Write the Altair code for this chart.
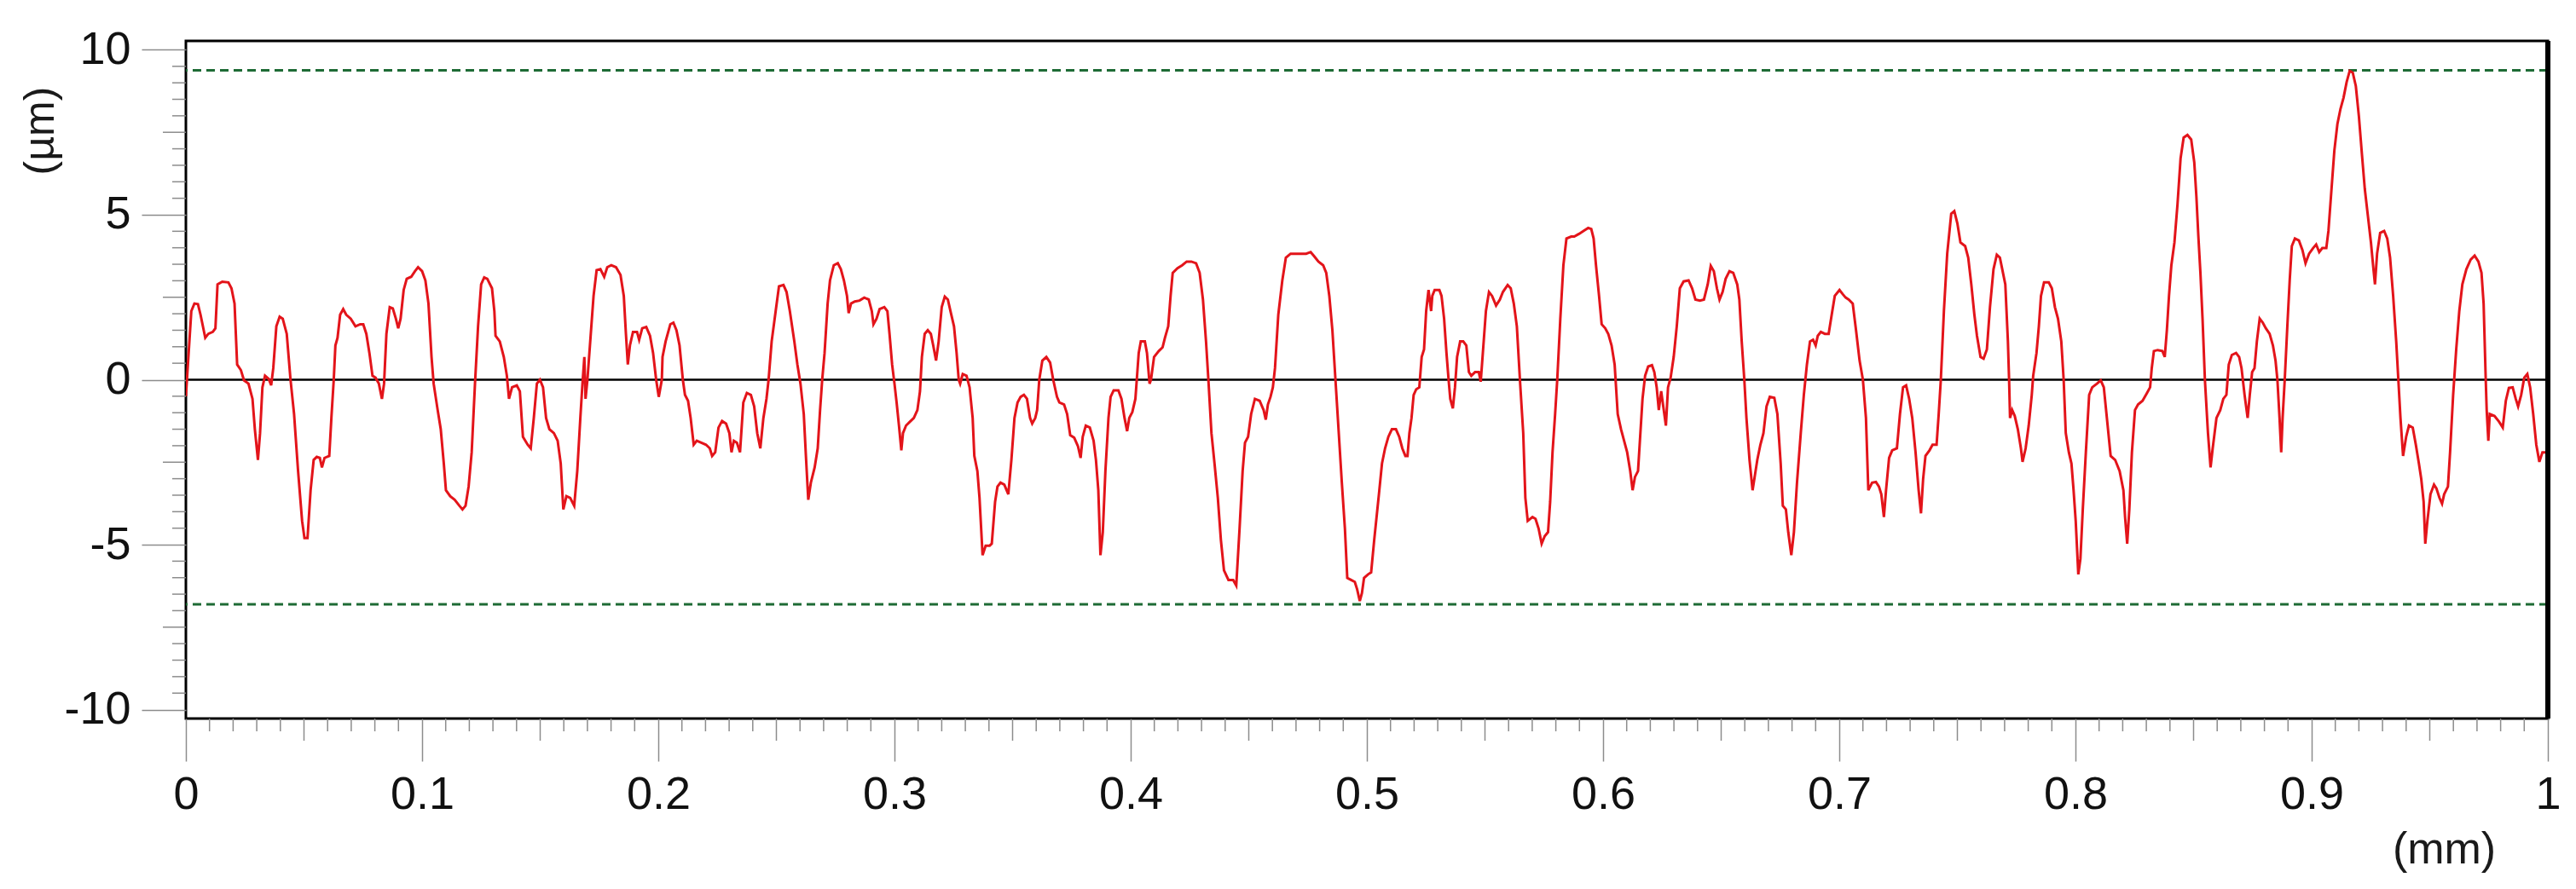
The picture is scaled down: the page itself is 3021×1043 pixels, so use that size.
import altair as alt
import pandas as pd

# ---- profile data (x in mm, z in µm) ----
x_a = [0.000, 0.0023, 0.0036, 0.0051, 0.0062, 0.0082, 0.0095, 0.0114, 0.0125, 0.0134, 0.0154, 0.0180, 0.0193, 0.0206, 0.0217, 0.0233, 0.0246, 0.0265, 0.0282, 0.0292, 0.0305, 0.0314, 0.0324, 0.0335, 0.0351, 0.0361, 0.0370, 0.0383, 0.0397, 0.0410, 0.0427, 0.0443, 0.0458, 0.0475, 0.0492, 0.0502, 0.0515, 0.0528, 0.0541, 0.0554, 0.0567, 0.0576, 0.0587, 0.0607, 0.0616, 0.0626, 0.0633, 0.0642, 0.0653, 0.0666, 0.0679, 0.0698, 0.0718, 0.0738, 0.0751, 0.0764, 0.0777, 0.0790, 0.0803, 0.0817, 0.0830, 0.0839, 0.0849, 0.0863, 0.0876, 0.0889, 0.0899, 0.0909, 0.0922, 0.0935, 0.0954, 0.0970, 0.0983, 0.1000]
y_a = [-0.50, 2.08, 2.31, 2.29, 1.97, 1.27, 1.39, 1.45, 1.56, 2.89, 2.97, 2.95, 2.77, 2.31, 0.46, 0.29, -0.02, -0.12, -0.58, -1.50, -2.43, -1.62, -0.23, 0.12, 0.02, -0.17, 0.35, 1.62, 1.91, 1.85, 1.39, 0.00, -1.04, -2.77, -4.28, -4.80, -4.80, -3.35, -2.43, -2.34, -2.37, -2.66, -2.37, -2.31, -1.16, 0.00, 1.04, 1.27, 1.97, 2.14, 1.97, 1.85, 1.62, 1.68, 1.68, 1.39, 0.81, 0.12, 0.06, -0.12, -0.58, -0.12, 1.39, 2.20, 2.16, 1.85, 1.56, 1.85, 2.72, 3.06, 3.12, 3.29, 3.41, 3.29]

x_b = [0.1014, 0.1027, 0.1040, 0.1049, 0.1066, 0.1079, 0.1092, 0.1101, 0.1119, 0.1138, 0.1158, 0.1171, 0.1184, 0.1197, 0.1210, 0.1224, 0.1237, 0.1250, 0.1263, 0.1276, 0.1296, 0.1306, 0.1311, 0.1329, 0.1346, 0.1359, 0.1368, 0.1381, 0.1401, 0.1414, 0.1427, 0.1447, 0.1460, 0.1473, 0.1486, 0.1499, 0.1512, 0.1525, 0.1539, 0.1558, 0.1574, 0.1587, 0.1598, 0.1611, 0.1627, 0.1644, 0.1657, 0.1670, 0.1679, 0.1687, 0.1692, 0.1700, 0.1713, 0.1726, 0.1739, 0.1755, 0.1771, 0.1784, 0.1801, 0.1821, 0.1840, 0.1854, 0.1863, 0.1871, 0.1880, 0.1893, 0.1910, 0.1919, 0.1932, 0.1949, 0.1965, 0.1978, 0.1991, 0.2002, 0.2015]
y_b = [3.01, 2.31, 0.69, -0.12, -0.92, -1.50, -2.54, -3.35, -3.53, -3.64, -3.82, -3.93, -3.82, -3.24, -2.20, -0.12, 1.62, 2.89, 3.10, 3.06, 2.77, 2.08, 1.33, 1.16, 0.69, 0.12, -0.58, -0.23, -0.17, -0.35, -1.73, -1.97, -2.08, -1.16, -0.12, 0.00, -0.23, -1.16, -1.50, -1.62, -1.85, -2.54, -3.93, -3.53, -3.58, -3.82, -2.77, -1.16, -0.12, 0.69, -0.58, 0.00, 1.27, 2.54, 3.32, 3.35, 3.12, 3.41, 3.47, 3.41, 3.18, 2.54, 1.39, 0.46, 1.04, 1.45, 1.45, 1.21, 1.56, 1.60, 1.33, 0.81, 0.00, -0.52, 0.00]

x_c = [0.2018, 0.2031, 0.2051, 0.2064, 0.2077, 0.2090, 0.2104, 0.2113, 0.2126, 0.2137, 0.2150, 0.2163, 0.2182, 0.2202, 0.2218, 0.2228, 0.2241, 0.2255, 0.2270, 0.2287, 0.2301, 0.2310, 0.2320, 0.2333, 0.2346, 0.2360, 0.2375, 0.2392, 0.2406, 0.2419, 0.2432, 0.2445, 0.2458, 0.2467, 0.2480, 0.2497, 0.2511, 0.2530, 0.2543, 0.2557, 0.2576, 0.2589, 0.2602, 0.2616, 0.2625, 0.2635, 0.2646, 0.2662, 0.2675, 0.2685, 0.2694, 0.2704, 0.2717, 0.2727, 0.2743, 0.2760, 0.2773, 0.2786, 0.2799, 0.2806, 0.2816, 0.2832, 0.2852, 0.2872, 0.2891, 0.2904, 0.2911, 0.2924, 0.2937, 0.2957, 0.2970, 0.2979, 0.2990]
y_c = [0.69, 1.16, 1.68, 1.73, 1.50, 1.04, 0.00, -0.46, -0.64, -1.16, -1.97, -1.85, -1.91, -1.97, -2.08, -2.31, -2.20, -1.45, -1.25, -1.33, -1.62, -2.20, -1.85, -1.91, -2.20, -0.69, -0.40, -0.46, -0.81, -1.62, -2.08, -1.16, -0.58, 0.00, 1.16, 2.08, 2.83, 2.87, 2.66, 2.08, 1.16, 0.46, -0.12, -1.04, -2.31, -3.64, -3.12, -2.66, -2.08, -0.92, 0.00, 0.81, 2.31, 3.01, 3.47, 3.53, 3.35, 3.01, 2.54, 2.02, 2.31, 2.37, 2.40, 2.49, 2.43, 2.08, 1.68, 1.85, 2.14, 2.20, 2.08, 1.39, 0.46]

x_d = [0.3000, 0.3009, 0.3019, 0.3029, 0.3036, 0.3049, 0.3066, 0.3082, 0.3097, 0.3108, 0.3116, 0.3128, 0.3141, 0.3154, 0.3164, 0.3176, 0.3187, 0.3200, 0.3213, 0.3226, 0.3239, 0.3252, 0.3263, 0.3272, 0.3278, 0.3289, 0.3305, 0.3318, 0.3331, 0.3338, 0.3351, 0.3360, 0.3373, 0.3386, 0.3403, 0.3412, 0.3426, 0.3436, 0.3449, 0.3465, 0.3482, 0.3495, 0.3508, 0.3521, 0.3534, 0.3548, 0.3561, 0.3574, 0.3583, 0.3596, 0.3604, 0.3613, 0.3626, 0.3643, 0.3659, 0.3672, 0.3688, 0.3698, 0.3718, 0.3731, 0.3744, 0.3761, 0.3777, 0.3788, 0.3797, 0.3810, 0.3827, 0.3843, 0.3853, 0.3863, 0.3872, 0.3882, 0.3893, 0.3906, 0.3915, 0.3928, 0.3948, 0.3961, 0.3974, 0.3985, 0.3994, 0.4007, 0.4020]
y_d = [-0.12, -0.69, -1.39, -2.14, -1.62, -1.39, -1.27, -1.16, -0.92, -0.35, 0.69, 1.39, 1.50, 1.39, 1.04, 0.58, 1.16, 2.20, 2.52, 2.43, 2.02, 1.62, 0.81, 0.00, -0.12, 0.17, 0.12, -0.23, -1.16, -2.31, -2.77, -3.58, -5.32, -5.03, -5.03, -4.97, -3.70, -3.24, -3.12, -3.18, -3.47, -2.43, -1.16, -0.69, -0.52, -0.46, -0.58, -1.16, -1.33, -1.16, -0.92, 0.00, 0.58, 0.69, 0.52, 0.00, -0.52, -0.69, -0.75, -1.04, -1.68, -1.76, -2.02, -2.37, -1.73, -1.39, -1.45, -1.85, -2.43, -3.35, -5.32, -4.62, -2.77, -1.16, -0.52, -0.32, -0.32, -0.58, -1.16, -1.56, -1.16, -0.98, -0.58]

x_e = [0.4034, 0.4043, 0.4060, 0.4069, 0.4080, 0.4086, 0.4099, 0.4119, 0.4135, 0.4145, 0.4159, 0.4169, 0.4178, 0.4198, 0.4218, 0.4237, 0.4257, 0.4277, 0.4292, 0.4306, 0.4319, 0.4329, 0.4342, 0.4355, 0.4369, 0.4382, 0.4395, 0.4414, 0.4434, 0.4447, 0.4461, 0.4474, 0.4484, 0.4497, 0.4510, 0.4526, 0.4546, 0.4563, 0.4572, 0.4581, 0.4592, 0.4602, 0.4611, 0.4625, 0.4642, 0.4657, 0.4677, 0.4697, 0.4723, 0.4743, 0.4762, 0.4775, 0.4795, 0.4815, 0.4828, 0.4841, 0.4854, 0.4867, 0.4881, 0.4894, 0.4907, 0.4917, 0.4933, 0.4949, 0.4959, 0.4970, 0.4979, 0.4988]
y_e = [0.81, 1.16, 1.16, 0.81, -0.12, 0.00, 0.69, 0.87, 0.98, 1.27, 1.62, 2.54, 3.24, 3.38, 3.47, 3.58, 3.58, 3.53, 3.24, 2.43, 1.16, 0.00, -1.62, -2.54, -3.58, -4.86, -5.78, -6.07, -6.07, -6.24, -4.51, -2.77, -1.91, -1.73, -1.04, -0.58, -0.64, -0.92, -1.21, -0.75, -0.52, -0.23, 0.35, 1.97, 3.01, 3.70, 3.82, 3.82, 3.82, 3.82, 3.87, 3.76, 3.58, 3.47, 3.24, 2.54, 1.50, 0.00, -1.62, -3.12, -4.51, -6.01, -6.07, -6.13, -6.36, -6.71, -6.47, -6.01]

x_f = [0.5005, 0.5018, 0.5031, 0.5051, 0.5064, 0.5077, 0.5091, 0.5106, 0.5123, 0.5137, 0.5150, 0.5163, 0.5172, 0.5180, 0.5189, 0.5198, 0.5209, 0.5222, 0.5232, 0.5242, 0.5251, 0.5261, 0.5272, 0.5277, 0.5287, 0.5307, 0.5316, 0.5327, 0.5337, 0.5346, 0.5353, 0.5364, 0.5373, 0.5382, 0.5395, 0.5408, 0.5421, 0.5432, 0.5442, 0.5458, 0.5474, 0.5482, 0.5491, 0.5504, 0.5517, 0.5530, 0.5547, 0.5563, 0.5576, 0.5596, 0.5609, 0.5622, 0.5635, 0.5648, 0.5662, 0.5671, 0.5681, 0.5701, 0.5714, 0.5727, 0.5740, 0.5753, 0.5767, 0.5776, 0.5786, 0.5797, 0.5806, 0.5819, 0.5832, 0.5845, 0.5865, 0.5878, 0.5898, 0.5917, 0.5937, 0.5950, 0.5960, 0.5970, 0.5983, 0.5994, 0.6009, 0.6022, 0.6036, 0.6049]
y_f = [-5.90, -5.84, -4.86, -3.47, -2.54, -2.08, -1.73, -1.50, -1.50, -1.73, -2.08, -2.31, -2.31, -1.62, -1.16, -0.46, -0.29, -0.23, 0.69, 0.92, 2.08, 2.72, 2.08, 2.54, 2.72, 2.72, 2.54, 1.85, 0.81, 0.00, -0.58, -0.87, -0.23, 0.69, 1.16, 1.16, 1.04, 0.23, 0.12, 0.23, 0.23, -0.06, 0.81, 2.08, 2.66, 2.54, 2.25, 2.43, 2.66, 2.87, 2.77, 2.31, 1.62, 0.00, -1.62, -3.58, -4.28, -4.16, -4.22, -4.51, -4.97, -4.74, -4.62, -3.70, -2.20, -1.04, 0.00, 1.85, 3.47, 4.28, 4.34, 4.34, 4.42, 4.51, 4.60, 4.57, 4.28, 3.47, 2.54, 1.68, 1.56, 1.39, 1.04, 0.46]

x_g = [0.6062, 0.6076, 0.6089, 0.6102, 0.6115, 0.6125, 0.6135, 0.6148, 0.6157, 0.6167, 0.6178, 0.6191, 0.6207, 0.6217, 0.6227, 0.6236, 0.6246, 0.6257, 0.6266, 0.6275, 0.6286, 0.6299, 0.6312, 0.6325, 0.6341, 0.6362, 0.6377, 0.6391, 0.6410, 0.6427, 0.6443, 0.6456, 0.6469, 0.6482, 0.6493, 0.6506, 0.6519, 0.6535, 0.6551, 0.6568, 0.6577, 0.6587, 0.6598, 0.6607, 0.6620, 0.6633, 0.6643, 0.6653, 0.6666, 0.6679, 0.6692, 0.6706, 0.6725, 0.6738, 0.6752, 0.6761, 0.6774, 0.6784, 0.6797, 0.6808, 0.6821, 0.6837, 0.6850, 0.6863, 0.6876, 0.6889, 0.6900, 0.6909, 0.6922, 0.6939, 0.6955, 0.6968, 0.6981, 0.7001, 0.7014, 0.7027, 0.7040, 0.7057, 0.7071, 0.7086, 0.7100]
y_g = [-1.04, -1.50, -1.85, -2.20, -2.77, -3.35, -2.95, -2.77, -1.73, -0.58, 0.12, 0.40, 0.44, 0.23, -0.23, -0.92, -0.35, -0.92, -1.39, -0.23, 0.06, 0.69, 1.62, 2.77, 2.98, 3.01, 2.77, 2.43, 2.40, 2.43, 2.89, 3.45, 3.29, 2.77, 2.43, 2.66, 3.06, 3.29, 3.24, 2.89, 2.43, 1.16, 0.00, -1.16, -2.43, -3.35, -2.89, -2.43, -1.97, -1.62, -0.81, -0.52, -0.55, -1.04, -2.54, -3.82, -3.93, -4.62, -5.32, -4.62, -3.12, -1.62, -0.46, 0.46, 1.16, 1.21, 1.04, 1.33, 1.45, 1.39, 1.39, 1.97, 2.54, 2.72, 2.60, 2.49, 2.43, 2.31, 1.50, 0.58, 0.00]

x_h = [0.7113, 0.7123, 0.7139, 0.7155, 0.7168, 0.7178, 0.7189, 0.7198, 0.7211, 0.7224, 0.7244, 0.7257, 0.7270, 0.7283, 0.7296, 0.7309, 0.7323, 0.7336, 0.7346, 0.7355, 0.7365, 0.7382, 0.7395, 0.7412, 0.7421, 0.7430, 0.7443, 0.7457, 0.7474, 0.7487, 0.7500, 0.7513, 0.7533, 0.7546, 0.7559, 0.7572, 0.7583, 0.7598, 0.7611, 0.7625, 0.7638, 0.7653, 0.7667, 0.7680, 0.7690, 0.7703, 0.7714, 0.7719, 0.7723, 0.7732, 0.7743, 0.7756, 0.7769, 0.7776, 0.7789, 0.7802, 0.7815, 0.7821, 0.7835, 0.7845, 0.7854, 0.7867, 0.7887, 0.7900, 0.7913, 0.7926, 0.7940, 0.7950, 0.7959, 0.7972, 0.7983, 0.7992, 0.8001, 0.8012, 0.8021, 0.8031, 0.8044, 0.8058]
y_h = [-1.16, -3.35, -3.12, -3.10, -3.24, -3.47, -4.16, -3.35, -2.37, -2.14, -2.08, -1.04, -0.23, -0.17, -0.58, -1.16, -2.20, -3.35, -4.05, -3.01, -2.31, -2.14, -1.97, -1.97, -1.04, 0.00, 2.08, 3.82, 5.03, 5.11, 4.74, 4.16, 4.05, 3.70, 2.89, 1.97, 1.33, 0.69, 0.64, 0.92, 2.20, 3.35, 3.79, 3.70, 3.35, 2.89, 1.16, 0.00, -1.16, -0.92, -1.10, -1.50, -2.08, -2.49, -2.08, -1.39, -0.46, 0.12, 0.81, 1.62, 2.54, 2.95, 2.95, 2.77, 2.20, 1.85, 1.16, 0.00, -1.62, -2.20, -2.54, -3.35, -4.28, -5.90, -5.43, -3.93, -2.20, -0.46]

x_i = [0.8071, 0.8091, 0.8107, 0.8120, 0.8133, 0.8149, 0.8168, 0.8187, 0.8203, 0.8210, 0.8219, 0.8228, 0.8239, 0.8252, 0.8265, 0.8284, 0.8303, 0.8316, 0.8323, 0.8332, 0.8348, 0.8368, 0.8378, 0.8387, 0.8396, 0.8406, 0.8419, 0.8432, 0.8445, 0.8458, 0.8474, 0.8490, 0.8503, 0.8512, 0.8520, 0.8529, 0.8538, 0.8548, 0.8561, 0.8572, 0.8581, 0.8597, 0.8613, 0.8626, 0.8639, 0.8649, 0.8662, 0.8680, 0.8693, 0.8703, 0.8716, 0.8729, 0.8738, 0.8748, 0.8758, 0.8768, 0.8780, 0.8793, 0.8806, 0.8822, 0.8836, 0.8847, 0.8855, 0.8864, 0.8871, 0.8877, 0.8886, 0.8897, 0.8907, 0.8916, 0.8929, 0.8946, 0.8961, 0.8974, 0.8989]
y_i = [-0.23, -0.12, -0.02, -0.23, -1.16, -2.31, -2.43, -2.77, -3.35, -4.16, -4.97, -3.93, -2.20, -0.92, -0.75, -0.64, -0.40, -0.23, 0.35, 0.87, 0.90, 0.87, 0.69, 1.50, 2.54, 3.47, 4.16, 5.32, 6.71, 7.34, 7.42, 7.28, 6.59, 5.55, 4.39, 3.24, 1.85, 0.00, -1.62, -2.66, -2.08, -1.16, -0.92, -0.58, -0.46, 0.46, 0.75, 0.81, 0.69, 0.35, -0.46, -1.16, -0.46, 0.23, 0.35, 1.16, 1.85, 1.73, 1.56, 1.39, 1.04, 0.58, 0.00, -1.16, -2.20, -1.16, 0.00, 1.62, 3.01, 4.05, 4.28, 4.22, 3.93, 3.53, 3.82]

x_j = [0.9006, 0.9019, 0.9032, 0.9045, 0.9062, 0.9071, 0.9084, 0.9096, 0.9109, 0.9122, 0.9135, 0.9148, 0.9161, 0.9174, 0.9187, 0.9200, 0.9213, 0.9225, 0.9238, 0.9251, 0.9260, 0.9268, 0.9277, 0.9290, 0.9307, 0.9320, 0.9332, 0.9345, 0.9358, 0.9367, 0.9376, 0.9387, 0.9400, 0.9412, 0.9428, 0.9441, 0.9454, 0.9464, 0.9474, 0.9481, 0.9490, 0.9503, 0.9518, 0.9528, 0.9541, 0.9552, 0.9561, 0.9577, 0.9586, 0.9599, 0.9612, 0.9625, 0.9638, 0.9655, 0.9673, 0.9690, 0.9706, 0.9719, 0.9728, 0.9737, 0.9741, 0.9748, 0.9754, 0.9774, 0.9793, 0.9809, 0.9822, 0.9835, 0.9851, 0.9864, 0.9874, 0.9887, 0.9900, 0.9913, 0.9925, 0.9938, 0.9951, 0.9964, 0.9977, 0.9993, 1.0000]
y_j = [3.99, 4.10, 3.87, 3.99, 3.99, 4.51, 5.78, 6.94, 7.75, 8.21, 8.55, 9.02, 9.36, 9.31, 8.90, 7.98, 6.82, 5.78, 4.97, 4.16, 3.47, 2.89, 3.82, 4.45, 4.51, 4.28, 3.70, 2.54, 1.16, 0.00, -1.16, -2.31, -1.73, -1.39, -1.45, -1.97, -2.54, -3.01, -3.70, -4.97, -4.28, -3.47, -3.18, -3.29, -3.58, -3.76, -3.47, -3.24, -2.20, -0.46, 0.92, 2.08, 2.89, 3.35, 3.64, 3.76, 3.58, 3.24, 2.31, 0.00, -0.92, -1.85, -1.04, -1.10, -1.27, -1.45, -0.64, -0.25, -0.23, -0.58, -0.81, -0.46, 0.06, 0.17, -0.23, -1.04, -1.97, -2.49, -2.20, -2.20, -2.25]

# reference lines (peak / valley levels)
limit_levels = [9.38, -6.81]
zero_level = [0.0]

# axis ticks: labelled major ticks, medium ticks and minor ticks
x_major = [round(i * 0.1, 1) for i in range(11)]
x_mid = [round(0.05 + i * 0.1, 2) for i in range(10)]
x_minor = [round(i * 0.01, 2) for i in range(101) if i % 5 != 0]
y_major = [-10, -5, 0, 5, 10]
y_mid = [-7.5, -2.5, 2.5, 7.5]
y_minor = [round(-10 + i * 0.5, 1) for i in range(41) if i % 5 != 0]

xs = x_a + x_b + x_c + x_d + x_e + x_f + x_g + x_h + x_i + x_j
ys = y_a + y_b + y_c + y_d + y_e + y_f + y_g + y_h + y_i + y_j
profile = pd.DataFrame({"x": xs, "z": ys, "i": list(range(len(xs)))})

FONT = "Liberation Sans"
TICK = "#8c8c8c"
W, H = 2770, 795
x_scale = alt.Scale(domain=[0, 1], nice=False, zero=False)
y_scale = alt.Scale(domain=[-10.27, 10.27], nice=False, zero=False)

x_axis = alt.Axis(
    values=x_major, grid=False, domain=False, title="(mm)",
    tickColor=TICK, tickWidth=1.5, tickSize=50,
    labelExpr="toString(round(datum.value*10)/10)",
    labelOverlap=False, labelFlush=False, labelFont=FONT, labelFontSize=54,
    labelColor="#111111", labelPadding=12, labelBaseline="top",
    titleFont=FONT, titleFontSize=52, titleFontWeight="normal", titleColor="#1a1a1a",
    titleX=2648, titleY=153, titleAlign="center", titleBaseline="middle", titleAnchor="start",
)
y_axis = alt.Axis(
    values=y_major, grid=False, domain=False, title="(µm)",
    tickColor=TICK, tickWidth=1.5, tickSize=52,
    labelExpr="toString(round(datum.value))",
    labelOverlap=False, labelFlush=False, labelFont=FONT, labelFontSize=54,
    labelColor="#111111", labelPadding=13,
    titleFont=FONT, titleFontSize=50, titleFontWeight="normal", titleColor="#1a1a1a",
    titleAngle=-90, titleX=-171, titleY=105, titleAlign="center", titleBaseline="middle", titleAnchor="start",
)

X = alt.X("x:Q", scale=x_scale, axis=x_axis)
Y = alt.Y("z:Q", scale=y_scale, axis=y_axis)

line = alt.Chart(profile).mark_line(color="#e3141a", strokeWidth=3, clip=True).encode(
    x=X, y=Y, order="i:Q",
)

zero = alt.Chart(pd.DataFrame({"z": zero_level})).mark_rule(color="#000000", strokeWidth=2.5).encode(y=Y)

limits = alt.Chart(pd.DataFrame({"z": limit_levels})).mark_rule(
    color="#1e6b35", strokeWidth=3, strokeDash=[10, 6]
).encode(y=Y)

right_edge = alt.Chart(pd.DataFrame({"x": [1.0]})).mark_rule(color="black", strokeWidth=6).encode(x=X)

# shorter (unlabelled) ticks outside the frame
def xticks(vals, length):
    return alt.Chart(pd.DataFrame({"x": vals})).mark_rule(color=TICK, strokeWidth=1.5).encode(
        x=X, y=alt.value(H), y2=alt.value(H + length)
    )

def yticks(vals, length):
    return alt.Chart(pd.DataFrame({"z": vals})).mark_rule(color=TICK, strokeWidth=1.5).encode(
        y=Y, x=alt.value(-length), x2=alt.value(0)
    )

chart = alt.layer(
    limits, zero, line, right_edge,
    xticks(x_mid, 26), xticks(x_minor, 15),
    yticks(y_mid, 27), yticks(y_minor, 16),
).properties(
    width=W, height=H,
    autosize=alt.AutoSizeParams(type="none"),
    padding={"left": 210, "top": 40, "right": 25, "bottom": 192},
).configure(
    background="white",
    view=alt.ViewConfig(stroke="black", strokeWidth=3),
)

chart.save("out.html", embed_options={"renderer": "svg", "actions": False})
